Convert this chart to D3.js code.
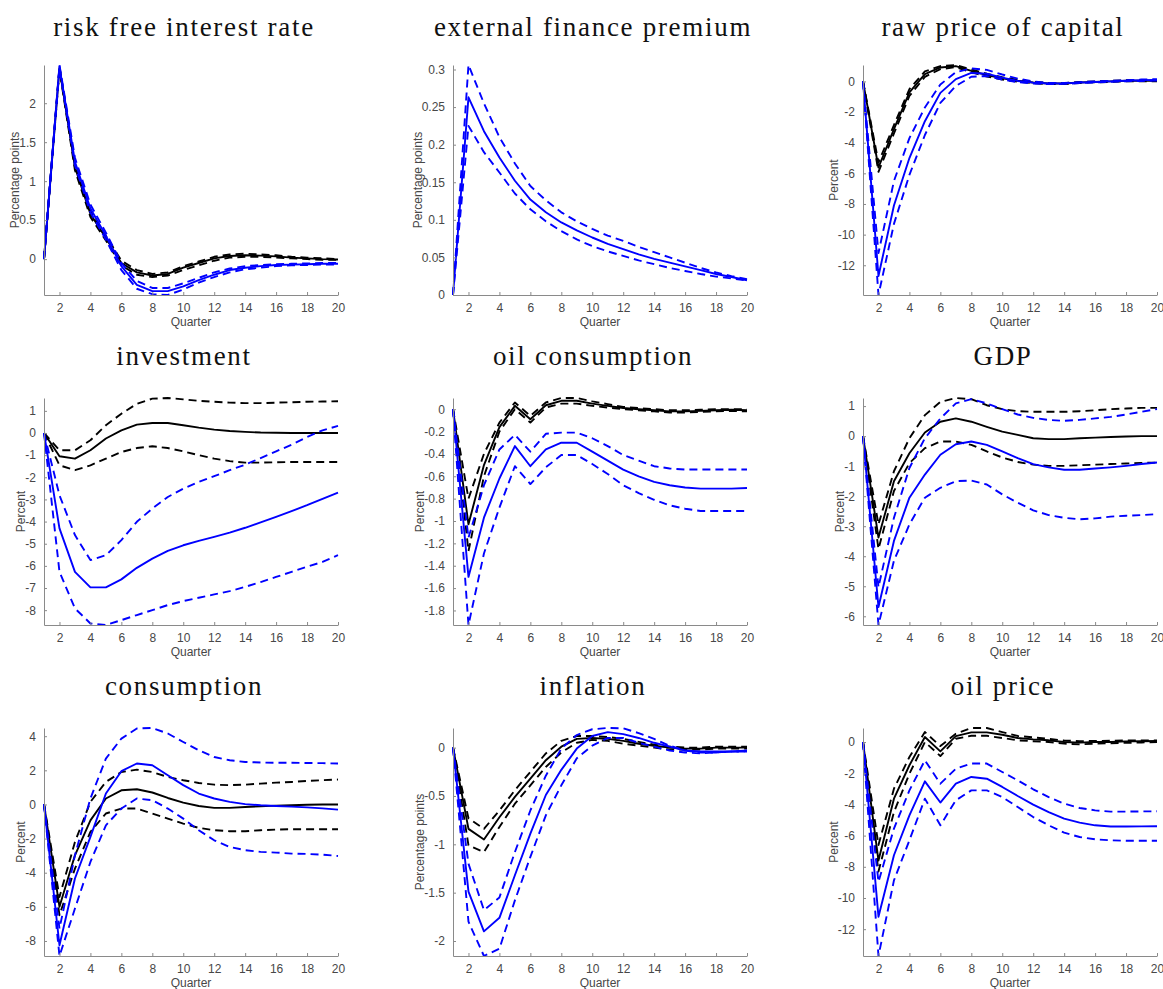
<!DOCTYPE html>
<html>
<head>
<meta charset="utf-8">
<script src="https://cdn.jsdelivr.net/npm/d3@7"></script>
<style>
  html, body { margin: 0; padding: 0; background: #fff; }
  svg { display: block; }
</style>
</head>
<body>
<script>
// Impulse responses over 20 quarters: black = baseline model, blue = alternative model,
// solid = median response, dashed = lower / upper bands.
const quarters = [1,2,3,4,5,6,7,8,9,10,11,12,13,14,15,16,17,18,19,20];
const xTicks = [2,4,6,8,10,12,14,16,18,20];

const panelTitles = ["risk free interest rate", "external finance premium", "raw price of capital",
                     "investment", "oil consumption", "GDP",
                     "consumption", "inflation", "oil price"];
const yLabels = ["Percentage points", "Percentage points", "Percent",
                 "Percent", "Percent", "Percent",
                 "Percent", "Percentage points", "Percent"];
const yTicks = [
  [0, 0.5, 1, 1.5, 2],
  [0, 0.05, 0.1, 0.15, 0.2, 0.25, 0.3],
  [-12, -10, -8, -6, -4, -2, 0],
  [-8, -7, -6, -5, -4, -3, -2, -1, 0, 1],
  [-1.8, -1.6, -1.4, -1.2, -1, -0.8, -0.6, -0.4, -0.2, 0],
  [-6, -5, -4, -3, -2, -1, 0, 1],
  [-8, -6, -4, -2, 0, 2, 4],
  [-2, -1.5, -1, -0.5, 0],
  [-12, -10, -8, -6, -4, -2, 0]
];

// risk free interest rate
const rateBlack   = [0, 2.45, 1.18, 0.58, 0.27, -0.05, -0.17, -0.21, -0.19, -0.11, -0.05, 0.01, 0.04, 0.05, 0.045, 0.035, 0.02, 0.01, 0.0, -0.005];
const rateBlackLo = [0, 2.43, 1.14, 0.54, 0.24, -0.08, -0.20, -0.23, -0.21, -0.14, -0.08, -0.02, 0.02, 0.03, 0.03, 0.02, 0.01, 0.0, -0.01, -0.01];
const rateBlackHi = [0, 2.47, 1.22, 0.62, 0.30, -0.02, -0.14, -0.19, -0.17, -0.09, -0.03, 0.03, 0.06, 0.07, 0.06, 0.05, 0.03, 0.02, 0.01, 0.0];
const rateBlue    = [0, 2.47, 1.25, 0.65, 0.30, -0.09, -0.33, -0.41, -0.41, -0.35, -0.27, -0.20, -0.14, -0.11, -0.09, -0.075, -0.07, -0.065, -0.06, -0.06];
const rateBlueLo  = [0, 2.45, 1.20, 0.60, 0.25, -0.14, -0.38, -0.45, -0.46, -0.39, -0.30, -0.23, -0.17, -0.13, -0.11, -0.09, -0.08, -0.075, -0.07, -0.07];
const rateBlueHi  = [0, 2.49, 1.30, 0.70, 0.34, -0.05, -0.28, -0.37, -0.37, -0.31, -0.24, -0.17, -0.12, -0.09, -0.075, -0.065, -0.06, -0.055, -0.05, -0.05];

// external finance premium (alternative model only)
const efpBlue    = [0, 0.263, 0.218, 0.183, 0.152, 0.127, 0.110, 0.0965, 0.086, 0.0765, 0.068, 0.061, 0.054, 0.048, 0.043, 0.038, 0.033, 0.028, 0.024, 0.0196];
const efpBlueLo  = [0, 0.225, 0.190, 0.163, 0.135, 0.114, 0.098, 0.085, 0.074, 0.065, 0.058, 0.052, 0.046, 0.041, 0.036, 0.032, 0.028, 0.0245, 0.022, 0.0195];
const efpBlueHi  = [0, 0.306, 0.255, 0.210, 0.175, 0.145, 0.126, 0.110, 0.098, 0.088, 0.079, 0.072, 0.064, 0.057, 0.050, 0.043, 0.036, 0.030, 0.025, 0.021];

// raw price of capital
const pkBlack   = [0, -5.62, -3.12, -0.72, 0.48, 0.91, 1.00, 0.69, 0.41, 0.20, 0.04, -0.07, -0.14, -0.14, -0.07, -0.03, 0.0, 0.04, 0.04, 0.04];
const pkBlackLo = [0, -5.90, -3.40, -0.95, 0.30, 0.80, 0.93, 0.60, 0.32, 0.12, -0.02, -0.12, -0.18, -0.17, -0.10, -0.06, -0.03, 0.0, 0.0, 0.0];
const pkBlackHi = [0, -5.30, -2.85, -0.50, 0.65, 1.00, 1.07, 0.78, 0.50, 0.27, 0.10, -0.02, -0.10, -0.11, -0.04, 0.0, 0.04, 0.07, 0.08, 0.08];
const pkBlue    = [0, -12.7, -8.1, -5.0, -2.6, -0.75, 0.15, 0.55, 0.50, 0.25, 0.03, -0.08, -0.14, -0.13, -0.08, -0.04, 0.0, 0.04, 0.07, 0.10];
const pkBlueLo  = [0, -13.94, -9.3, -6.1, -3.5, -1.4, -0.3, 0.30, 0.35, 0.12, -0.05, -0.14, -0.18, -0.16, -0.11, -0.07, -0.03, 0.01, 0.03, 0.05];
const pkBlueHi  = [0, -11.2, -6.5, -3.7, -1.7, -0.2, 0.60, 0.85, 0.75, 0.45, 0.18, 0.0, -0.10, -0.10, -0.05, 0.0, 0.04, 0.08, 0.12, 0.15];

// investment
const invBlack   = [0, -1.05, -1.16, -0.78, -0.25, 0.12, 0.38, 0.45, 0.45, 0.35, 0.24, 0.15, 0.09, 0.05, 0.02, 0.01, 0.0, 0.0, 0.0, 0.0];
const invBlackLo = [0, -1.46, -1.68, -1.46, -1.16, -0.86, -0.68, -0.60, -0.68, -0.83, -1.00, -1.16, -1.27, -1.34, -1.34, -1.32, -1.31, -1.31, -1.31, -1.31];
const invBlackHi = [0, -0.78, -0.78, -0.33, 0.35, 0.87, 1.32, 1.55, 1.58, 1.52, 1.45, 1.41, 1.37, 1.35, 1.35, 1.37, 1.39, 1.41, 1.42, 1.43];
const invBlue    = [0, -4.31, -6.27, -6.97, -6.97, -6.61, -6.09, -5.67, -5.32, -5.07, -4.87, -4.69, -4.50, -4.28, -4.04, -3.79, -3.53, -3.26, -2.97, -2.69];
const invBlueLo  = [0, -6.27, -7.92, -8.60, -8.67, -8.45, -8.22, -8.00, -7.77, -7.59, -7.44, -7.29, -7.14, -6.95, -6.73, -6.50, -6.27, -6.04, -5.82, -5.52];
const invBlueHi  = [0, -2.81, -4.61, -5.74, -5.52, -4.84, -4.01, -3.41, -2.89, -2.51, -2.21, -1.95, -1.68, -1.43, -1.13, -0.83, -0.53, -0.18, 0.12, 0.32];

// oil consumption
const ocBlack   = [0, -1.03, -0.50, -0.16, 0.03, -0.09, 0.035, 0.075, 0.075, 0.05, 0.03, 0.01, 0.0, -0.01, -0.02, -0.02, -0.015, -0.01, -0.005, -0.01];
const ocBlackLo = [0, -1.27, -0.60, -0.20, 0.0, -0.12, 0.015, 0.05, 0.05, 0.03, 0.015, 0.0, -0.01, -0.02, -0.03, -0.03, -0.025, -0.02, -0.015, -0.02];
const ocBlackHi = [0, -0.80, -0.40, -0.12, 0.06, -0.06, 0.06, 0.10, 0.10, 0.07, 0.045, 0.02, 0.01, 0.0, -0.01, -0.01, -0.005, 0.0, 0.0, 0.0];
const ocBlue    = [0, -1.50, -0.97, -0.62, -0.33, -0.51, -0.36, -0.30, -0.30, -0.38, -0.46, -0.54, -0.60, -0.65, -0.68, -0.70, -0.71, -0.71, -0.71, -0.705];
const ocBlueLo  = [0, -1.93, -1.29, -0.88, -0.51, -0.67, -0.52, -0.41, -0.41, -0.49, -0.58, -0.68, -0.75, -0.81, -0.86, -0.89, -0.91, -0.91, -0.91, -0.91];
const ocBlueHi  = [0, -1.15, -0.68, -0.36, -0.23, -0.38, -0.22, -0.21, -0.21, -0.26, -0.33, -0.41, -0.46, -0.51, -0.53, -0.54, -0.54, -0.54, -0.54, -0.54];

// GDP
const gdpBlack   = [0, -3.38, -1.50, -0.57, 0.12, 0.48, 0.59, 0.48, 0.31, 0.15, 0.04, -0.07, -0.10, -0.10, -0.07, -0.05, -0.03, -0.01, 0.0, 0.0];
const gdpBlackLo = [0, -3.76, -1.83, -0.90, -0.40, -0.18, -0.18, -0.29, -0.51, -0.71, -0.86, -0.95, -0.99, -0.99, -0.97, -0.95, -0.93, -0.91, -0.89, -0.88];
const gdpBlackHi = [0, -2.94, -1.17, -0.07, 0.70, 1.14, 1.27, 1.23, 1.03, 0.90, 0.83, 0.81, 0.81, 0.81, 0.83, 0.86, 0.90, 0.92, 0.94, 0.94];
const gdpBlue    = [0, -5.69, -3.49, -2.05, -1.28, -0.62, -0.27, -0.18, -0.29, -0.51, -0.73, -0.93, -1.04, -1.12, -1.12, -1.08, -1.04, -0.99, -0.93, -0.88];
const gdpBlueLo  = [0, -6.29, -4.15, -2.94, -2.05, -1.72, -1.50, -1.48, -1.61, -1.94, -2.22, -2.47, -2.63, -2.72, -2.77, -2.74, -2.68, -2.65, -2.63, -2.60];
const gdpBlueHi  = [0, -5.03, -2.72, -1.06, -0.07, 0.59, 1.09, 1.23, 1.09, 0.90, 0.72, 0.61, 0.54, 0.51, 0.54, 0.59, 0.64, 0.72, 0.81, 0.90];

// consumption
const conBlack   = [0, -6.00, -2.98, -0.93, 0.35, 0.83, 0.89, 0.70, 0.38, 0.11, -0.09, -0.20, -0.20, -0.15, -0.11, -0.07, -0.05, -0.02, 0.0, 0.0];
const conBlackLo = [0, -6.49, -3.76, -1.61, -0.53, -0.24, -0.24, -0.53, -0.83, -1.12, -1.37, -1.51, -1.57, -1.57, -1.51, -1.47, -1.45, -1.45, -1.45, -1.45];
const conBlackHi = [0, -5.42, -2.20, 0.15, 1.32, 1.90, 2.04, 1.90, 1.61, 1.42, 1.26, 1.16, 1.13, 1.16, 1.22, 1.28, 1.32, 1.38, 1.42, 1.46];
const conBlue    = [0, -8.25, -4.34, -1.90, 0.64, 1.95, 2.40, 2.30, 1.71, 1.13, 0.64, 0.35, 0.15, 0.02, -0.05, -0.09, -0.13, -0.17, -0.23, -0.30];
const conBlueLo  = [0, -8.88, -6.10, -3.37, -1.22, -0.24, 0.35, 0.25, -0.24, -0.83, -1.51, -2.10, -2.49, -2.68, -2.78, -2.82, -2.88, -2.90, -2.94, -3.02];
const conBlueHi  = [0, -7.27, -2.98, 0.35, 2.69, 3.86, 4.45, 4.48, 4.16, 3.66, 3.18, 2.78, 2.59, 2.49, 2.46, 2.44, 2.44, 2.43, 2.42, 2.40];

// inflation
const infBlack   = [0, -0.84, -0.95, -0.72, -0.51, -0.32, -0.13, 0.01, 0.09, 0.10, 0.09, 0.07, 0.04, 0.02, 0.0, -0.01, -0.01, 0.0, 0.0, 0.0];
const infBlackLo = [0, -1.01, -1.08, -0.82, -0.58, -0.39, -0.20, -0.05, 0.05, 0.08, 0.07, 0.04, 0.02, 0.0, -0.02, -0.02, -0.02, -0.01, -0.01, -0.01];
const infBlackHi = [0, -0.73, -0.84, -0.65, -0.44, -0.25, -0.06, 0.07, 0.12, 0.12, 0.11, 0.09, 0.06, 0.03, 0.01, 0.0, 0.0, 0.01, 0.01, 0.01];
const infBlue    = [0, -1.49, -1.90, -1.76, -1.32, -0.89, -0.49, -0.23, -0.01, 0.12, 0.16, 0.14, 0.10, 0.05, 0.01, -0.03, -0.04, -0.04, -0.04, -0.03];
const infBlueLo  = [0, -1.80, -2.155, -2.08, -1.58, -1.13, -0.70, -0.39, -0.11, 0.02, 0.10, 0.10, 0.05, 0.01, -0.03, -0.05, -0.06, -0.05, -0.04, -0.04];
const infBlueHi  = [0, -1.20, -1.68, -1.55, -1.08, -0.65, -0.29, -0.01, 0.13, 0.19, 0.203, 0.20, 0.15, 0.09, 0.02, -0.03, -0.05, -0.05, -0.04, -0.04];

// oil price
const opBlack   = [0, -7.60, -3.63, -1.49, 0.32, -0.60, 0.38, 0.62, 0.62, 0.47, 0.26, 0.17, 0.11, 0.0, -0.04, 0.0, 0.0, 0.04, 0.05, 0.07];
const opBlackLo = [0, -8.30, -4.49, -2.03, 0.0, -0.90, 0.21, 0.40, 0.40, 0.26, 0.11, 0.05, 0.0, -0.10, -0.15, -0.10, -0.08, -0.05, -0.03, 0.0];
const opBlackHi = [0, -6.60, -2.99, -0.96, 0.64, -0.26, 0.53, 0.90, 0.90, 0.64, 0.39, 0.30, 0.20, 0.10, 0.05, 0.07, 0.08, 0.10, 0.10, 0.10];
const opBlue    = [0, -11.2, -7.26, -4.70, -2.52, -3.88, -2.67, -2.24, -2.35, -2.88, -3.46, -4.01, -4.49, -4.91, -5.17, -5.34, -5.42, -5.42, -5.41, -5.40];
const opBlueLo  = [0, -13.72, -8.87, -6.30, -3.63, -5.34, -3.74, -3.10, -3.10, -3.53, -4.17, -4.81, -5.34, -5.81, -6.09, -6.24, -6.30, -6.33, -6.33, -6.33];
const opBlueHi  = [0, -8.97, -5.55, -3.10, -1.17, -2.67, -1.71, -1.38, -1.38, -1.92, -2.46, -3.03, -3.53, -3.95, -4.23, -4.38, -4.46, -4.46, -4.45, -4.44];

const blackSeries = [
  [rateBlack, rateBlackLo, rateBlackHi], [], [pkBlack, pkBlackLo, pkBlackHi],
  [invBlack, invBlackLo, invBlackHi], [ocBlack, ocBlackLo, ocBlackHi], [gdpBlack, gdpBlackLo, gdpBlackHi],
  [conBlack, conBlackLo, conBlackHi], [infBlack, infBlackLo, infBlackHi], [opBlack, opBlackLo, opBlackHi]
];
const blueSeries = [
  [rateBlue, rateBlueLo, rateBlueHi], [efpBlue, efpBlueLo, efpBlueHi], [pkBlue, pkBlueLo, pkBlueHi],
  [invBlue, invBlueLo, invBlueHi], [ocBlue, ocBlueLo, ocBlueHi], [gdpBlue, gdpBlueLo, gdpBlueHi],
  [conBlue, conBlueLo, conBlueHi], [infBlue, infBlueLo, infBlueHi], [opBlue, opBlueLo, opBlueHi]
];

// ---- layout ----
const W = 1163, H = 989;
const colLeft = [44, 453, 863];
const plotW = 294;
const rowTop = [65, 398, 728];
const rowH = [230, 227, 228];
const titleGap = [29, 33, 33];

const axisColor = "#8a8a8a";
const textColor = "#474747";
const lineW = 1.9;
const dash = "8,5";

const svg = d3.select("body").append("svg")
  .attr("width", W).attr("height", H)
  .style("font-family", "'Liberation Sans', Arial, sans-serif");

const fmt = v => String(+v.toFixed(4));

panelTitles.forEach((title, i) => {
  const r = Math.floor(i / 3), c = i % 3;
  const left = colLeft[c], top = rowTop[r], h = rowH[r];

  const all = blackSeries[i].flat().concat(blueSeries[i].flat());
  const x = d3.scaleLinear().domain(d3.extent(quarters)).range([0, plotW]);
  const y = d3.scaleLinear().domain(d3.extent(all)).range([h, 0]);

  const g = svg.append("g").attr("transform", `translate(${left},${top})`);

  g.append("clipPath").attr("id", "clip" + i)
    .append("rect").attr("x", -1).attr("y", -1).attr("width", plotW + 2).attr("height", h + 2);

  const line = d3.line().x((d, k) => x(quarters[k])).y(d => y(d));
  const lines = g.append("g").attr("clip-path", `url(#clip${i})`);

  [[blackSeries[i], "#000000"], [blueSeries[i], "#0000ff"]].forEach(([set, color]) => {
    set.forEach((s, k) => {
      lines.append("path")
        .attr("d", line(s))
        .attr("fill", "none")
        .attr("stroke", color)
        .attr("stroke-width", lineW)
        .attr("stroke-linejoin", "round")
        .attr("stroke-dasharray", k === 0 ? null : dash);
    });
  });

  // x axis (bottom)
  const xAxis = g.append("g").attr("transform", `translate(0,${h})`)
    .call(d3.axisBottom(x).tickValues(xTicks).tickSizeInner(-3).tickSizeOuter(0).tickPadding(8).tickFormat(fmt));
  // y axis (left)
  const yAxis = g.append("g")
    .call(d3.axisLeft(y).tickValues(yTicks[i]).tickSizeInner(-3).tickSizeOuter(0).tickPadding(8).tickFormat(fmt));

  [xAxis, yAxis].forEach(a => {
    a.select(".domain").attr("stroke", axisColor).attr("stroke-width", 1);
    a.selectAll(".tick line").attr("stroke", axisColor);
    a.selectAll(".tick text").attr("fill", textColor).style("font-size", "12px")
      .style("font-family", "'Liberation Sans', Arial, sans-serif");
  });

  // x label
  g.append("text")
    .attr("x", plotW / 2).attr("y", h + 31)
    .attr("text-anchor", "middle")
    .attr("fill", textColor).style("font-size", "12px")
    .text("Quarter");

  // y label placed just left of the widest tick label
  let maxW = 0;
  yAxis.selectAll(".tick text").each(function () { maxW = Math.max(maxW, this.getBBox().width); });
  const lx = -(maxW + 5 + 7);
  g.append("text")
    .attr("transform", `translate(${lx},${h / 2}) rotate(-90)`)
    .attr("text-anchor", "middle")
    .attr("dy", "0.35em")
    .attr("fill", textColor).style("font-size", "12px")
    .text(yLabels[i]);

  // title
  g.append("text")
    .attr("x", plotW / 2 - 7).attr("y", -titleGap[r])
    .attr("text-anchor", "middle")
    .attr("fill", "#111")
    .style("font-family", "'Liberation Serif', 'Times New Roman', serif")
    .style("font-size", "27px")
    .style("letter-spacing", "1.7px")
    .text(title);
});
</script>
</body>
</html>
